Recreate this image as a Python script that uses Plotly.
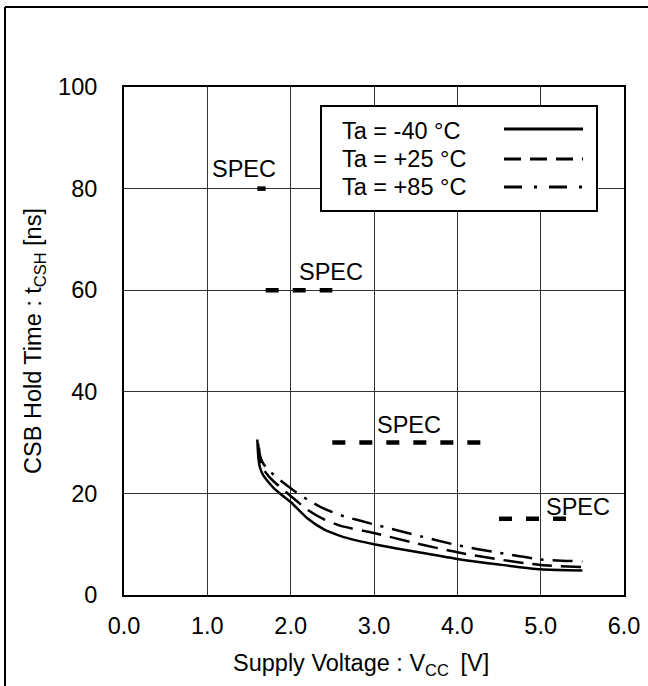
import plotly.graph_objects as go

# ---- data ----
x_m40 = [1.60, 1.61, 1.63, 1.67, 1.73, 1.80, 1.90, 2.00, 2.20, 2.40, 2.60, 2.80, 3.00, 3.50, 4.00, 4.50, 5.00, 5.50]
y_m40 = [30.6, 27.5, 25.2, 23.6, 22.3, 21.0, 19.6, 18.3, 15.1, 12.9, 11.6, 10.7, 10.0, 8.5, 7.1, 6.0, 5.05, 4.8]

x_p25 = [1.61, 1.62, 1.64, 1.68, 1.74, 1.80, 1.90, 2.00, 2.20, 2.40, 2.60, 3.00, 3.50, 4.00, 4.50, 5.00, 5.50]
y_p25 = [29.8, 27.8, 26.0, 24.6, 23.3, 22.3, 20.9, 19.5, 16.8, 14.9, 13.6, 12.2, 10.2, 8.4, 7.0, 5.9, 5.5]

x_p85 = [1.62, 1.63, 1.66, 1.70, 1.76, 1.85, 2.00, 2.20, 2.40, 2.60, 3.00, 3.50, 4.00, 4.50, 5.00, 5.50]
y_p85 = [29.0, 27.6, 26.2, 25.2, 24.2, 22.9, 21.0, 18.8, 17.0, 15.7, 13.9, 11.8, 9.8, 8.3, 7.0, 6.6]

spec_level = [80, 60, 30, 15]
spec_x_start = [1.60, 1.70, 2.50, 4.50]
spec_x_end = [1.70, 2.50, 4.35, 5.35]
spec_label_x = [1.44, 2.48, 3.42, 5.45]
spec_label_y = [83.8, 63.5, 33.4, 17.3]

legend_labels = ["Ta = -40 °C", "Ta = +25 °C", "Ta = +85 °C"]

x_ticks = [0, 1, 2, 3, 4, 5, 6]
y_ticks = [0, 20, 40, 60, 80, 100]

# ---- figure ----
W, H = 648, 686
L, R, T, B = 124, 24, 87, 91
PW, PH = W - L - R, H - T - B

def px(xp):
    return (xp - L) / PW

def py(yp):
    return (H - B - yp) / PH

FONT = "Liberation Sans, Arial, sans-serif"
FS = 23.5
fig = go.Figure()

curve_dash = ["solid", "20px,9px", "20px,9px,3px,9px"]
for xs, ys, d, name in zip([x_m40, x_p25, x_p85], [y_m40, y_p25, y_p85], curve_dash, legend_labels):
    fig.add_trace(go.Scatter(x=xs, y=ys, mode="lines", name=name,
                             line=dict(color="black", width=2.5, dash=d, shape="spline", smoothing=0.6),
                             showlegend=False))

for lvl, xs, xe in zip(spec_level, spec_x_start, spec_x_end):
    fig.add_trace(go.Scatter(x=[xs, xe], y=[lvl, lvl], mode="lines",
                             line=dict(color="black", width=4.5, dash="13px,14px"),
                             showlegend=False))

for lx, ly in zip(spec_label_x, spec_label_y):
    fig.add_annotation(x=lx, y=ly, text="SPEC", showarrow=False,
                       font=dict(family=FONT, size=FS, color="black"),
                       xanchor="center", yanchor="middle")

# manual legend box (text left, line sample right)
shapes = []
shapes.append(dict(type="rect", xref="paper", yref="paper",
                   x0=px(321), x1=px(597), y0=py(106), y1=py(211),
                   line=dict(color="black", width=2), fillcolor="white", layer="above"))
row_y = [131, 159, 187]
line_y = [129, 159, 187]
for i, lab in enumerate(legend_labels):
    fig.add_annotation(xref="paper", yref="paper", x=px(340), y=py(row_y[i]),
                       text=lab, showarrow=False, xanchor="left", yanchor="middle",
                       font=dict(family=FONT, size=FS, color="black"))
    shapes.append(dict(type="line", xref="paper", yref="paper",
                       x0=px(504), x1=px(583), y0=py(line_y[i]), y1=py(line_y[i]),
                       line=dict(color="black", width=3, dash=["solid", "17px,9px", "18px,12px,3px,12px"][i]),
                       layer="above"))

# x axis title (slightly left of plot centre, as in the reference)
fig.add_annotation(xref="paper", yref="paper", x=px(361), y=py(664),
                   text="Supply Voltage : V<sub>CC</sub>\u2002[V]", showarrow=False,
                   xanchor="center", yanchor="middle",
                   font=dict(family=FONT, size=FS, color="black"))

# outer frame (left & top)
shapes.append(dict(type="line", xref="paper", yref="paper",
                   x0=px(5), x1=px(5), y0=py(7), y1=py(700),
                   line=dict(color="black", width=2), layer="above"))
shapes.append(dict(type="line", xref="paper", yref="paper",
                   x0=px(5), x1=px(660), y0=py(7), y1=py(7),
                   line=dict(color="black", width=2), layer="above"))

fig.update_layout(
    width=W, height=H,
    margin=dict(l=L, r=R, t=T, b=B, autoexpand=False),
    paper_bgcolor="white", plot_bgcolor="white",
    font=dict(family=FONT, size=FS, color="black"),
    shapes=shapes,
    showlegend=False,
)

fig.update_xaxes(range=[0, 6], tickvals=x_ticks, tickformat=".1f",
                 showgrid=True, gridcolor="#333", gridwidth=1,
                 showline=True, linecolor="black", linewidth=2, mirror=True,
                 zeroline=False, ticks="", ticklabelstandoff=9,
                 tickfont=dict(family=FONT, size=FS, color="black"))
fig.update_yaxes(range=[0, 100], tickvals=y_ticks,
                 showgrid=True, gridcolor="#333", gridwidth=1,
                 showline=True, linecolor="black", linewidth=2, mirror=True,
                 zeroline=False, ticks="", ticklabelstandoff=20,
                 tickfont=dict(family=FONT, size=FS, color="black"),
                 title=dict(text="CSB Hold Time : t<sub>CSH</sub> [ns]",
                            font=dict(family=FONT, size=FS, color="black"), standoff=10))

fig.write_html("out.html", config={"displayModeBar": False},
               post_script="document.body.style.margin='0px';")
